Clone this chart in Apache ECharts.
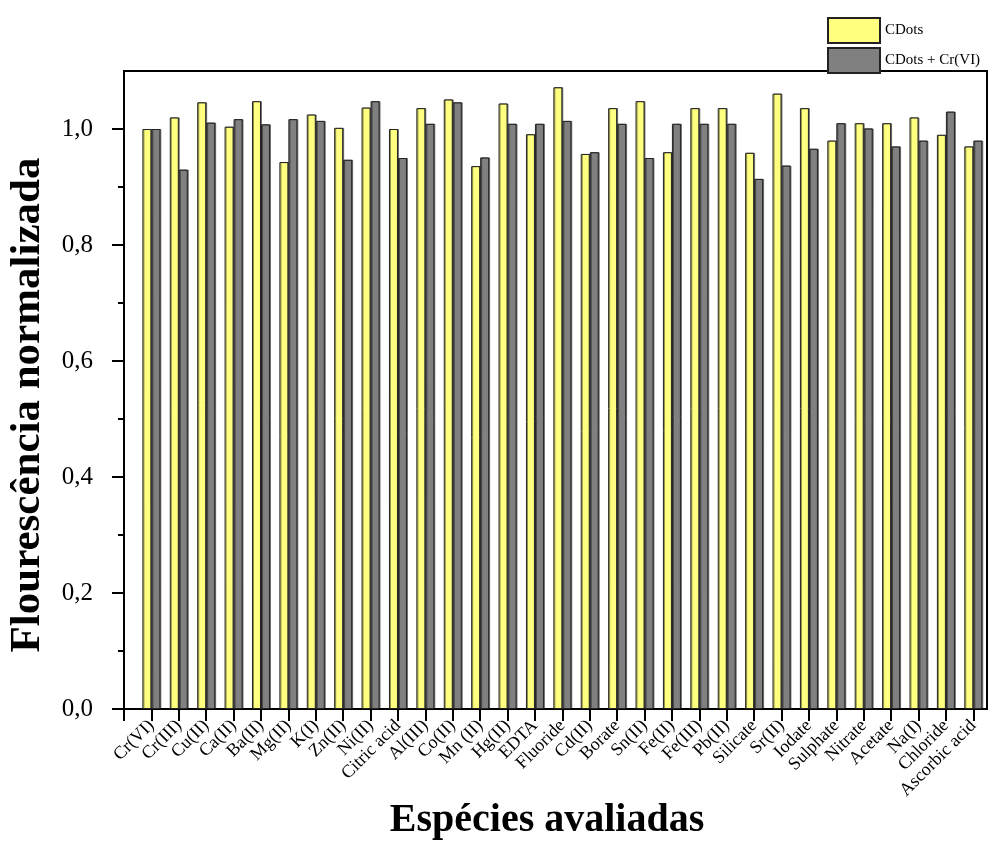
<!DOCTYPE html>
<html><head><meta charset="utf-8">
<script src="https://cdn.jsdelivr.net/npm/echarts@6/dist/echarts.min.js"></script>
<style>html,body{margin:0;padding:0;background:#fff}#c{width:989px;height:844px}</style>
</head><body><div id="c"></div>
<script>
const categories = ['Cr(VI)','Cr(III)','Cu(II)','Ca(II)','Ba(II)','Mg(II)','K(I)','Zn(II)','Ni(II)','Citric acid','Al(III)','Co(II)','Mn (II)','Hg(II)','EDTA','Fluoride','Cd(II)','Borate','Sn(II)','Fe(II)','Fe(III)','Pb(II)','Silicate','Sr(II)','Iodate','Sulphate','Nitrate','Acetate','Na(I)','Chloride','Ascorbic acid'];
const cdots = [1.000,1.020,1.046,1.004,1.048,0.943,1.025,1.002,1.037,1.000,1.036,1.051,0.936,1.044,0.991,1.072,0.957,1.036,1.048,0.960,1.036,1.036,0.959,1.061,1.036,0.980,1.010,1.010,1.020,0.990,0.970];
const cdotsCr = [1.000,0.930,1.011,1.017,1.008,1.017,1.014,0.947,1.048,0.950,1.009,1.046,0.951,1.009,1.009,1.014,0.960,1.009,0.950,1.009,1.009,1.009,0.914,0.937,0.966,1.010,1.001,0.970,0.980,1.030,0.980];
const seriesNames = ['CDots','CDots + Cr(VI)'];
const yMajorTicks = [0,0.2,0.4,0.6,0.8,1.0];
const yMinorTicks = [0.1,0.3,0.5,0.7,0.9];
const xTitle = 'Espécies avaliadas';
const yTitle = 'Flourescência normalizada';

const FONT = '"Liberation Serif","Times New Roman",serif';
const xPos = categories.map((c,i)=>i+1);
const xTicks = [0].concat(xPos);

const chart = echarts.init(document.getElementById('c'), null, {renderer:'canvas'});
const barStyle = (color)=>({color:color, borderColor:'#222', borderWidth:1,
  shadowColor:'rgba(0,0,0,0.45)', shadowOffsetX:1, shadowOffsetY:0, shadowBlur:0});
chart.setOption({
  animation:false,
  backgroundColor:'#fff',
  grid:{left:124, right:2, top:71, bottom:135, show:true, borderColor:'#000', borderWidth:2, backgroundColor:'transparent'},
  legend:{orient:'vertical', left:822, top:12, itemWidth:52, itemHeight:25, itemGap:3, icon:'rect',
    data:seriesNames, textStyle:{fontSize:15, fontFamily:FONT, color:'#000'}},
  xAxis:{type:'value', min:0, max:31.5, interval:1,
    splitLine:{show:false},
    axisLine:{onZero:false, lineStyle:{color:'#000', width:2}},
    axisTick:{customValues:xTicks, length:12, lineStyle:{color:'#000', width:2}},
    axisLabel:{customValues:xPos, rotate:45, margin:14, fontSize:18, fontFamily:FONT, color:'#000',
      formatter:(v)=>categories[Math.round(v)-1] || ''}
  },
  yAxis:[
    {type:'value', min:0, max:1.1, interval:0.2, position:'left',
      splitLine:{show:false},
      axisLine:{show:true, onZero:false, lineStyle:{color:'#000', width:2}},
      axisTick:{show:true, customValues:yMajorTicks, length:12, lineStyle:{color:'#000', width:2}},
      axisLabel:{customValues:yMajorTicks, margin:31, fontSize:25, fontFamily:FONT, color:'#000',
        formatter:(v)=>v.toFixed(1).replace('.',',')}
    },
    {type:'value', min:0, max:1.1, interval:0.1, position:'left', offset:0,
      splitLine:{show:false},
      axisLine:{show:false},
      axisTick:{show:true, customValues:yMinorTicks, length:6, lineStyle:{color:'#000', width:2}},
      axisLabel:{show:false}
    }
  ],
  series:[
    {type:'bar', name:seriesNames[0], xAxisIndex:0, yAxisIndex:0, barWidth:9, barGap:'0%',
      data:cdots.map((v,i)=>[xPos[i], v]), itemStyle:barStyle('#FFFF80')},
    {type:'bar', name:seriesNames[1], xAxisIndex:0, yAxisIndex:0, barWidth:9, barGap:'0%',
      data:cdotsCr.map((v,i)=>[xPos[i], v]), itemStyle:barStyle('#808080')}
  ],
  graphic:[
    {type:'text', x:28, y:405, rotation:Math.PI/2,
      style:{text:yTitle, font:'bold 43px '+FONT, align:'center', verticalAlign:'middle', fill:'#000'}},
    {type:'text', x:547, y:821,
      style:{text:xTitle, font:'bold 40px '+FONT, align:'center', verticalAlign:'middle', fill:'#000'}}
  ]
});
</script></body></html>
